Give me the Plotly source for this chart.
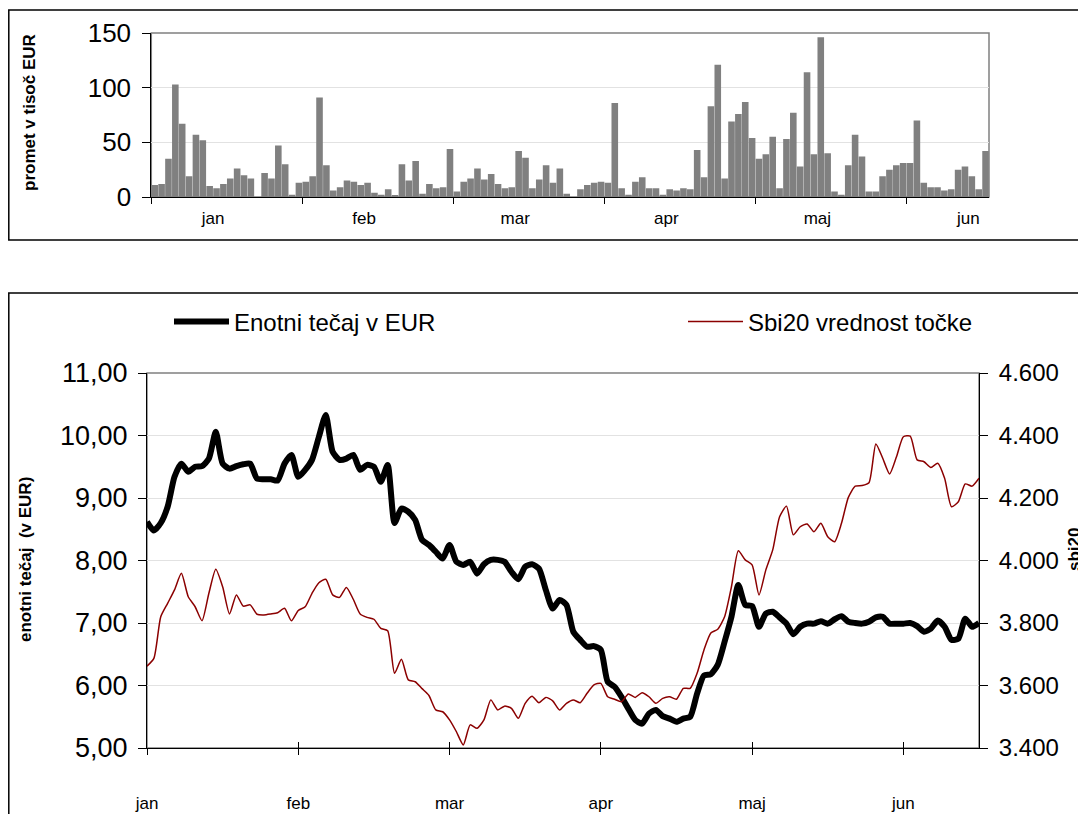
import plotly.graph_objects as go

months = ["jan", "feb", "mar", "apr", "maj", "jun"]

volume = [
    11, 12, 35, 103, 67, 19, 57, 52, 10, 8, 12, 17, 26, 20, 17, 0, 22, 17, 47, 30, 2, 13,
    14, 19, 91, 29, 6, 9, 15, 14, 11, 13, 4, 2, 7, 1, 30, 15, 33, 3, 12, 8, 9, 44,
    5, 14, 17, 26, 16, 21, 12, 8, 9, 42, 36, 8, 16, 29, 13, 26, 3, 0, 7, 11, 13, 14,
    13, 86, 8, 2, 14, 18, 8, 8, 2, 7, 6, 8, 7, 43, 18, 83, 121, 17, 69, 76, 87, 54,
    35, 39, 55, 8, 53, 77, 28, 114, 39, 146, 40, 5, 2, 29, 57, 37, 5, 5, 19, 25, 29, 31,
    31, 70, 13, 9, 9, 6, 7, 25, 28, 19, 7, 42,
]

price = [
    8.62, 8.48, 8.6, 8.86, 9.34, 9.55, 9.42, 9.5, 9.51, 9.63, 10.06, 9.55, 9.47, 9.51, 9.54, 9.55, 9.31, 9.3, 9.3, 9.28, 9.55, 9.69,
    9.34, 9.45, 9.61, 9.98, 10.33, 9.74, 9.61, 9.63, 9.69, 9.45, 9.53, 9.5, 9.26, 9.53, 8.6, 8.83, 8.78, 8.65, 8.33, 8.25, 8.14, 8.03,
    8.25, 7.98, 7.93, 7.98, 7.79, 7.94, 8.01, 8.01, 7.98, 7.82, 7.7, 7.9, 7.94, 7.87, 7.53, 7.23, 7.37, 7.29, 6.86, 6.73, 6.62, 6.63,
    6.57, 6.06, 5.98, 5.82, 5.63, 5.45, 5.39, 5.55, 5.61, 5.51, 5.47, 5.42, 5.47, 5.5, 5.87, 6.16, 6.18, 6.33, 6.7, 7.1, 7.61, 7.29,
    7.27, 6.94, 7.15, 7.18, 7.09, 6.99, 6.82, 6.94, 6.99, 6.99, 7.03, 6.99, 7.06, 7.11, 7.02, 7.0, 6.99, 7.02, 7.09, 7.1, 6.99, 6.99,
    6.99, 7.0, 6.95, 6.86, 6.91, 7.04, 6.94, 6.73, 6.75, 7.07, 6.94, 7.0,
]

sbi20 = [
    3662, 3687, 3820, 3863, 3906, 3959, 3884, 3852, 3807, 3895, 3972, 3916, 3829, 3890, 3854, 3858, 3828, 3826, 3829, 3833, 3847, 3807,
    3840, 3852, 3895, 3929, 3940, 3890, 3882, 3914, 3876, 3829, 3818, 3812, 3783, 3775, 3639, 3684, 3618, 3612, 3590, 3568, 3522, 3516,
    3490, 3452, 3410, 3474, 3463, 3490, 3554, 3522, 3534, 3527, 3495, 3543, 3566, 3545, 3562, 3551, 3522, 3543, 3554, 3545, 3575, 3602,
    3607, 3564, 3556, 3548, 3573, 3562, 3577, 3564, 3543, 3559, 3564, 3556, 3591, 3591, 3639, 3714, 3768, 3780, 3820, 3916, 4031, 4002,
    3986, 3890, 3970, 4034, 4140, 4174, 4082, 4108, 4117, 4092, 4119, 4076, 4060, 4119, 4202, 4238, 4240, 4249, 4373, 4327, 4277, 4332,
    4396, 4398, 4322, 4316, 4298, 4311, 4263, 4172, 4188, 4245, 4238, 4263,
]

vol_ticks = [0, 50, 100, 150]
price_ticks = [5, 6, 7, 8, 9, 10, 11]
price_labels = ["5,00", "6,00", "7,00", "8,00", "9,00", "10,00", "11,00"]
sbi_ticks = [3400, 3600, 3800, 4000, 4200, 4400, 4600]
sbi_labels = ["3.400", "3.600", "3.800", "4.000", "4.200", "4.400", "4.600"]

# the page body has an 8px margin, so the figure starts at (8, 8) in the window
OFF = 8
W, H = 1086 - OFF, 814 - OFF
FONT = "Arial, Liberation Sans, sans-serif"
per_month = 22
n = len(volume)
idx = list(range(n))

def px(x):
    return (x - OFF) / W

def py(y):
    return 1 - (y - OFF) / H

top_dom_x = [px(151.3), px(989)]
top_dom_y = [py(197), py(33)]
bot_dom_x = [px(147), px(979)]
bot_dom_y = [py(748), py(373)]

fig = go.Figure()
fig.add_trace(go.Bar(x=idx, y=volume, xaxis="x", yaxis="y", marker=dict(color="#808080", line=dict(width=0)),
                     showlegend=False, hoverinfo="skip"))
fig.add_trace(go.Scatter(x=idx, y=price, xaxis="x2", yaxis="y2", mode="lines", name="Enotni tečaj v EUR",
                         legend="legend",
                         line=dict(color="black", width=6, shape="spline", smoothing=0.6)))
fig.add_trace(go.Scatter(x=idx, y=sbi20, xaxis="x2", yaxis="y3", mode="lines", name="Sbi20 vrednost točke",
                         legend="legend2",
                         line=dict(color="#8B0000", width=1.5, shape="spline", smoothing=0.6)))
fig.add_trace(go.Scatter(x=[0], y=[5], xaxis="x3", yaxis="y2", mode="markers", marker=dict(opacity=0),
                         showlegend=False, hoverinfo="skip"))

month_bounds = [-0.5 + per_month * k for k in range(len(months))]
month_label_pos = [per_month * k + 8.5 for k in range(len(months))]
month_ticks_bot = [per_month * k for k in range(len(months))]

grid = "#e2e2e2"
legend_common = dict(orientation="h", xanchor="left", yanchor="middle", font=dict(size=24, family=FONT),
                     bgcolor="rgba(0,0,0,0)", itemwidth=55)
fig.update_layout(
    width=W, height=H, margin=dict(l=0, r=0, t=0, b=0, autoexpand=False),
    paper_bgcolor="white", plot_bgcolor="white",
    font=dict(family=FONT, color="black"),
    bargap=0.04,
    xaxis=dict(domain=top_dom_x, anchor="y", range=[-0.5, n - 0.5], tickmode="array", automargin=False,
               tickvals=month_label_pos, ticktext=months, ticks="", showgrid=False, zeroline=False,
               showline=True, linecolor="black", linewidth=1, tickfont=dict(size=17), ticklabelstandoff=6,
               minor=dict(tickmode="array", tickvals=month_bounds, ticks="outside", ticklen=6,
                          tickcolor="black", showgrid=False)),
    yaxis=dict(domain=top_dom_y, anchor="x", range=[0, 150], tickmode="array", tickvals=vol_ticks,
               automargin=False, ticklabelstandoff=6,
               ticks="outside", ticklen=8, tickcolor="black", showline=True, linecolor="black", linewidth=1,
               showgrid=True, gridcolor=grid, zeroline=False, tickfont=dict(size=26)),
    xaxis2=dict(domain=bot_dom_x, anchor="y2", range=[0, n - 1], tickmode="array", automargin=False,
                tickvals=month_ticks_bot, ticktext=months, ticks="outside", ticklen=6, tickcolor="black",
                showgrid=False, zeroline=False, showline=True, linecolor="black", linewidth=1,
                tickfont=dict(size=17), ticklabelstandoff=34),
    xaxis3=dict(overlaying="x2", anchor="y2", range=[0, n - 1], tickmode="array", tickvals=month_ticks_bot,
                automargin=False,
                ticks="inside", ticklen=6, tickcolor="black", showticklabels=False, showgrid=False,
                zeroline=False, showline=False),
    yaxis2=dict(domain=bot_dom_y, anchor="x2", range=[5, 11], tickmode="array", tickvals=price_ticks,
                automargin=False, ticklabelstandoff=5,
                ticktext=price_labels, ticks="outside", ticklen=8, tickcolor="black", showline=True,
                linecolor="black", linewidth=1, showgrid=True, gridcolor=grid, zeroline=False,
                tickfont=dict(size=27)),
    yaxis3=dict(overlaying="y2", anchor="x2", side="right", range=[3400, 4600], tickmode="array",
                automargin=False, ticklabelstandoff=6,
                tickvals=sbi_ticks, ticktext=sbi_labels, ticks="outside", ticklen=8, tickcolor="black",
                showline=True, linecolor="black", linewidth=1, showgrid=False, zeroline=False,
                tickfont=dict(size=24)),
    legend=dict(x=px(169), y=py(322), **legend_common),
    legend2=dict(x=px(683), y=py(322), **legend_common),
    showlegend=True,
)

shapes = [
    # outer frames
    dict(type="rect", xref="paper", yref="paper", x0=px(8.8), x1=px(1100), y0=py(240), y1=py(10),
         line=dict(color="black", width=1.5), layer="below"),
    dict(type="rect", xref="paper", yref="paper", x0=px(8.8), x1=px(1100), y0=py(830), y1=py(293),
         line=dict(color="black", width=1.5), layer="below"),
    # plot-area borders
    dict(type="rect", xref="paper", yref="paper", x0=top_dom_x[0], x1=top_dom_x[1], y0=top_dom_y[0],
         y1=top_dom_y[1], line=dict(color="#808080", width=1.5), layer="below"),
    dict(type="rect", xref="paper", yref="paper", x0=bot_dom_x[0], x1=bot_dom_x[1], y0=bot_dom_y[0],
         y1=bot_dom_y[1], line=dict(color="#808080", width=1.5), layer="below"),
]
fig.update_layout(shapes=shapes)

annotations = [
    dict(text="<b>promet v tisoč EUR</b>", x=px(30), y=py(113), xref="paper", yref="paper",
         textangle=-90, showarrow=False, font=dict(size=17), xanchor="center", yanchor="middle"),
    dict(text="<b>enotni tečaj  (v EUR)</b>", x=px(25), y=py(560), xref="paper", yref="paper",
         textangle=-90, showarrow=False, font=dict(size=17), xanchor="center", yanchor="middle"),
    dict(text="<b>sbi20</b>", x=px(1074), y=py(550), xref="paper", yref="paper",
         textangle=-90, showarrow=False, font=dict(size=17), xanchor="center", yanchor="middle"),
]
fig.update_layout(annotations=annotations)

fig.write_html("out.html")
